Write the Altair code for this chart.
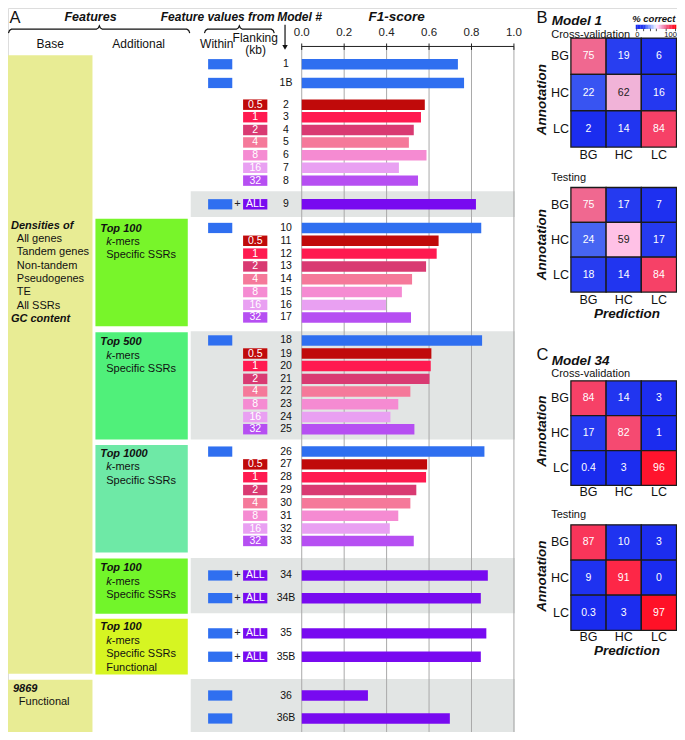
import altair as alt
import pandas as pd

FONT = "Liberation Sans"

# ---------------- data ----------------
models = ["1", "1B", "2", "3", "4", "5", "6", "7", "8", "9",
          "10", "11", "12", "13", "14", "15", "16", "17",
          "18", "19", "20", "21", "22", "23", "24", "25",
          "26", "27", "28", "29", "30", "31", "32", "33",
          "34", "34B", "35", "35B", "36", "36B"]
f1 = [0.736, 0.765, 0.580, 0.562, 0.528, 0.505, 0.588, 0.458, 0.548, 0.821,
      0.846, 0.645, 0.636, 0.586, 0.520, 0.472, 0.397, 0.515,
      0.850, 0.611, 0.608, 0.602, 0.512, 0.455, 0.418, 0.531,
      0.861, 0.591, 0.586, 0.540, 0.512, 0.455, 0.415, 0.528,
      0.877, 0.844, 0.870, 0.844, 0.312, 0.698]
within = [1, 1, 0, 0, 0, 0, 0, 0, 0, 1,
          1, 0, 0, 0, 0, 0, 0, 0,
          1, 0, 0, 0, 0, 0, 0, 0,
          1, 0, 0, 0, 0, 0, 0, 0,
          1, 1, 1, 1, 1, 1]
flank = ["", "", "0.5", "1", "2", "4", "8", "16", "32", "ALL",
         "", "0.5", "1", "2", "4", "8", "16", "32",
         "", "0.5", "1", "2", "4", "8", "16", "32",
         "", "0.5", "1", "2", "4", "8", "16", "32",
         "ALL", "ALL", "ALL", "ALL", "", ""]
bar_group = ["Within", "Within", "0.5", "1", "2", "4", "8", "16", "32", "ALL",
             "Within", "0.5", "1", "2", "4", "8", "16", "32",
             "Within", "0.5", "1", "2", "4", "8", "16", "32",
             "Within", "0.5", "1", "2", "4", "8", "16", "32",
             "ALL", "ALL", "ALL", "ALL", "ALL", "ALL"]
f1_ticks = [0.0, 0.2, 0.4, 0.6, 0.8, 1.0]
f1_tick_labels = ["0.0", "0.2", "0.4", "0.6", "0.8", "1.0"]

base_title = "Densities of"
base_items = ["All genes", "Tandem genes", "Non-tandem", "Pseudogenes", "TE", "All SSRs"]
base_tail = "GC content"
box_titles = ["Top 100", "Top 500", "Top 1000", "Top 100", "Top 100"]
box_items = [["Specific SSRs"], ["Specific SSRs"], ["Specific SSRs"], ["Specific SSRs"],
             ["Specific SSRs", "Functional"]]
func_title = "9869"
func_item = "Functional"

classes = ["BG", "HC", "LC"]
m1_cv = [[75, 19, 6], [22, 62, 16], [2, 14, 84]]
m1_test = [[75, 17, 7], [24, 59, 17], [18, 14, 84]]
m34_cv = [[84, 14, 3], [17, 82, 1], [0.4, 3, 96]]
m34_test = [[87, 10, 3], [9, 91, 0], [0.3, 3, 97]]
legend_vals = list(range(0, 101, 4))

# ---------------- layout (reference pixel coordinates) ----------------
row_y = [60, 79, 101, 113.7, 126.7, 139.3, 152.3, 165, 178, 202,
         226, 239, 252, 265, 278, 291, 304, 316.7,
         340, 353.3, 366, 379, 391.7, 404.7, 417.7, 430,
         452.7, 465.7, 478.7, 491.7, 505, 517.7, 530.7, 543.3,
         578.3, 601.3, 637, 660.7, 700, 723.3]
BAR_H = 10.6
W, H = 669, 724
X0, X1 = 3, 684
Y0, Y1 = 3, 737


def cx(v):
    return (v - X0) * W / (X1 - X0)


def cy(v):
    return (v - Y0) * H / (Y1 - Y0)


PXX = alt.Scale(domain=[X0, X1], range=[0, W], nice=False, zero=False)
PXY = alt.Scale(domain=[Y0, Y1], range=[0, H], nice=False, zero=False)
F1S = alt.Scale(domain=[0, 1], range=[cx(302), cx(518)], nice=False, zero=False)

GROUP_COLORS = {"Within": "#2f6ff0", "0.5": "#c00a0a", "1": "#ff1a50", "2": "#d93a72",
                "4": "#f5799a", "8": "#f58bd2", "16": "#e9a0f2", "32": "#b64ff2",
                "ALL": "#780af0"}
GSCALE = alt.Scale(domain=list(GROUP_COLORS.keys()), range=list(GROUP_COLORS.values()))
HEAT = alt.Scale(domain=[0, 15, 20, 25, 50, 62, 75, 85, 100],
                 range=["#1a2bef", "#2236f0", "#2a40f0", "#4f6ef2", "#ffffff",
                        "#f1b3d8", "#f06890", "#f63c62", "#ff0a10"])

layers = []


def rects(rows):
    df = pd.DataFrame(rows, columns=["x", "x2", "y", "y2", "fill"])
    return alt.Chart(df).mark_rect().encode(
        x=alt.X("x:Q", scale=PXX, axis=None), x2="x2:Q",
        y=alt.Y("y:Q", scale=PXY, axis=None), y2="y2:Q",
        color=alt.Color("fill:N", scale=None))


def texts(rows, align="left", weight="normal", style="normal", angle=0):
    df = pd.DataFrame(rows, columns=["x", "y", "text", "size", "color"])
    return alt.Chart(df).mark_text(align=align, baseline="middle", fontWeight=weight,
                                   fontStyle=style, angle=angle, font=FONT).encode(
        x=alt.X("x:Q", scale=PXX, axis=None),
        y=alt.Y("y:Q", scale=PXY, axis=None),
        text="text:N",
        size=alt.Size("size:Q", scale=None),
        color=alt.Color("color:N", scale=None))


# background bands and feature boxes
GRAY = "#e2e5e4"
bg = [(189, 519, 188.7, 215, GRAY), (189, 519, 330.7, 440.5, GRAY),
      (189, 519, 560.7, 616.7, GRAY), (189, 519, 683.3, 745, GRAY),
      (3, 89, 51, 678, "#e8ec94"), (3, 89, 684, 745, "#e8ec94"),
      (92, 186, 216.7, 325.7, "#78f52a"), (92, 186, 331.7, 440.5, "#50f07a"),
      (92, 186, 446, 555, "#6ee9a6"), (92, 186, 561, 617, "#72f52a"),
      (92, 186, 622.3, 678.7, "#d6f522")]
layers.append(rects(bg))

# grid lines and top axis
grid_df = pd.DataFrame({"t": f1_ticks, "y0": 42, "y1": 745, "ty0": 39, "ty1": 45.5,
                        "lab": f1_tick_labels, "ly": 28})
layers.append(alt.Chart(grid_df).mark_rule(color="#a9a9a9", strokeWidth=1).encode(
    x=alt.X("t:Q", scale=F1S, axis=None), y=alt.Y("y0:Q", scale=PXY, axis=None), y2="y1:Q"))
layers.append(alt.Chart(grid_df).mark_rule(color="#222", strokeWidth=1).encode(
    x=alt.X("t:Q", scale=F1S, axis=None), y=alt.Y("ty0:Q", scale=PXY, axis=None), y2="ty1:Q"))
axis_df = pd.DataFrame({"a": [0.0], "b": [1.0], "y": [42]})
layers.append(alt.Chart(axis_df).mark_rule(color="#222", strokeWidth=1).encode(
    x=alt.X("a:Q", scale=F1S, axis=None), x2="b:Q", y=alt.Y("y:Q", scale=PXY, axis=None)))
layers.append(alt.Chart(grid_df).mark_text(font=FONT, fontSize=11.5, color="#222").encode(
    x=alt.X("t:Q", scale=F1S, axis=None), y=alt.Y("ly:Q", scale=PXY, axis=None), text="lab:N"))

# bars
bars_df = pd.DataFrame({"model": models, "f1": f1, "group": bar_group, "zero": 0.0,
                        "yt": [y - BAR_H / 2 for y in row_y], "yb": [y + BAR_H / 2 for y in row_y]})
layers.append(alt.Chart(bars_df).mark_rect().encode(
    x=alt.X("zero:Q", scale=F1S, axis=None), x2="f1:Q",
    y=alt.Y("yt:Q", scale=PXY, axis=None), y2="yb:Q",
    color=alt.Color("group:N", scale=GSCALE, legend=None)))

# within / flanking markers
w_df = pd.DataFrame({"x": 206.7, "x2": 231.3, "group": "Within",
                     "y": [y - 5.2 for y, w in zip(row_y, within) if w],
                     "y2": [y + 5.2 for y, w in zip(row_y, within) if w]})
layers.append(alt.Chart(w_df).mark_rect().encode(
    x=alt.X("x:Q", scale=PXX, axis=None), x2="x2:Q",
    y=alt.Y("y:Q", scale=PXY, axis=None), y2="y2:Q",
    color=alt.Color("group:N", scale=GSCALE, legend=None)))
fl = [(y, f) for y, f in zip(row_y, flank) if f]
f_df = pd.DataFrame({"x": 242.3, "x2": 267, "xc": 254.7, "group": [f for _, f in fl],
                     "y": [y - 5.3 for y, _ in fl], "y2": [y + 5.3 for y, _ in fl],
                     "yc": [y for y, _ in fl]})
layers.append(alt.Chart(f_df).mark_rect().encode(
    x=alt.X("x:Q", scale=PXX, axis=None), x2="x2:Q",
    y=alt.Y("y:Q", scale=PXY, axis=None), y2="y2:Q",
    color=alt.Color("group:N", scale=GSCALE, legend=None)))
layers.append(alt.Chart(f_df).mark_text(font=FONT, fontSize=10.5, color="white").encode(
    x=alt.X("xc:Q", scale=PXX, axis=None), y=alt.Y("yc:Q", scale=PXY, axis=None),
    text="group:N"))
plus_rows = [(236.5, y, "+", 11, "#222") for y, w, f in zip(row_y, within, flank) if w and f]
layers.append(texts(plus_rows, align="center"))
num_rows = [(286, y, m, 10.5, "#111") for y, m in zip(row_y, models)]
layers.append(texts(num_rows, align="center"))

# braces and arrow
br = []
for name, x0, x1, xm, y in [("f", 3.5, 188, 96, 24.5), ("v", 203, 274, 238.5, 24.5)]:
    pts = [(x0, y + 4), (x0 + 1, y + 1.3), (x0 + 3, y), (xm - 3, y), (xm - 1, y - 1.3),
           (xm, y - 3.5), (xm + 1, y - 1.3), (xm + 3, y), (x1 - 3, y), (x1 - 1, y + 1.3), (x1, y + 4)]
    for i, (a, b) in enumerate(pts):
        br.append({"b": name, "i": i, "x": a, "y": b})
br += [{"b": "arrow", "i": 0, "x": 285, "y": 20}, {"b": "arrow", "i": 1, "x": 285, "y": 41}]
layers.append(alt.Chart(pd.DataFrame(br)).mark_line(color="#111", strokeWidth=1.2).encode(
    x=alt.X("x:Q", scale=PXX, axis=None), y=alt.Y("y:Q", scale=PXY, axis=None),
    detail="b:N", order="i:Q"))
layers.append(alt.Chart(pd.DataFrame({"x": [285], "y": [43]})).mark_point(
    shape="triangle-down", filled=True, size=30, color="#111", opacity=1).encode(
    x=alt.X("x:Q", scale=PXX, axis=None), y=alt.Y("y:Q", scale=PXY, axis=None)))

# header texts
layers.append(texts([(4.5, 13, "A", 16.5, "#111"), (541, 13, "B", 16.5, "#111"),
                     (541, 355, "C", 16.5, "#111")], align="left"))
layers.append(texts([(87, 12, "Features", 12.5, "#111"), (216.5, 12, "Feature values from", 12, "#111"),
                     (398.7, 12, "F1-score", 13.5, "#111")],
                    align="center", weight="bold", style="italic"))
layers.append(texts([(277, 12, "Model #", 12, "#111")], align="left", weight="bold", style="italic"))
layers.append(texts([(46, 40, "Base", 12, "#111"), (136, 40, "Additional", 12, "#111"),
                     (215.5, 40, "Within", 12, "#111"), (254.7, 33, "Flanking", 12, "#111"),
                     (255, 46, "(kb)", 12, "#111")], align="center"))

# feature box texts
FS = 11
bold_left = [(6, 224, base_title, FS, "#111"), (6, 318.3, base_tail, FS, "#111"),
             (8, 693, func_title, FS, "#111")]
reg_left = [(12, 237 + 13.6 * i, t, FS, "#111") for i, t in enumerate(base_items)]
reg_left.append((14, 706.7, func_item, FS, "#111"))
ital_left = []
title_y = [226.7, 341.7, 455, 571, 631]
for ty, title, items in zip(title_y, box_titles, box_items):
    bold_left.append((97, ty, title, FS, "#111"))
    ital_left.append((103, ty + 13.6, "k", FS, "#111"))
    reg_left.append((108.6, ty + 13.6, "-mers", FS, "#111"))
    for j, it in enumerate(items):
        reg_left.append((103, ty + 13.6 * (j + 2), it, FS, "#111"))
layers.append(texts(reg_left, align="left"))
layers.append(texts(ital_left, align="left", style="italic"))
layers.append(texts(bold_left, align="left", weight="bold", style="italic"))


# heatmaps
def fmt(v):
    return str(int(v)) if float(v).is_integer() else str(v)


def heatmap(vals, x0, x1, y0, y1, col_y):
    rows = []
    for i, a in enumerate(classes):
        for j, p in enumerate(classes):
            v = vals[i][j]
            rows.append({"ann": a, "pred": p, "v": v, "label": fmt(v),
                         "tc": "#222" if 40 < v < 70 else "white"})
    df = pd.DataFrame(rows)
    xs = alt.Scale(domain=classes, range=[cx(x0), cx(x1)], paddingInner=0, paddingOuter=0)
    ys = alt.Scale(domain=classes, range=[cy(y0), cy(y1)], paddingInner=0, paddingOuter=0)
    base = alt.Chart(df).encode(x=alt.X("pred:N", scale=xs, axis=None),
                                y=alt.Y("ann:N", scale=ys, axis=None))
    out = [base.mark_rect(stroke="#1a1a1a", strokeWidth=1.3).encode(
               color=alt.Color("v:Q", scale=HEAT, legend=None)),
           base.mark_text(font=FONT, fontSize=10.5).encode(
               text="label:N", color=alt.Color("tc:N", scale=None))]
    cdf = pd.DataFrame({"c": classes, "y": col_y, "x": 574})
    out.append(alt.Chart(cdf).mark_text(font=FONT, fontSize=12.5, color="#111").encode(
        x=alt.X("c:N", scale=xs, axis=None), y=alt.Y("y:Q", scale=PXY, axis=None), text="c:N"))
    out.append(alt.Chart(cdf).mark_text(font=FONT, fontSize=12.5, color="#111", align="right").encode(
        x=alt.X("x:Q", scale=PXX, axis=None), y=alt.Y("c:N", scale=ys, axis=None), text="c:N"))
    return out


layers += heatmap(m1_cv, 576, 683.5, 33.5, 144, 152)
layers += heatmap(m1_test, 576, 683.5, 185, 291, 299)
layers += heatmap(m34_cv, 576, 683.5, 381, 487, 494)
layers += heatmap(m34_test, 576, 683.5, 527, 634, 641)

# legend gradient
n = len(legend_vals)
lg_df = pd.DataFrame({"v": legend_vals,
                      "x": [642 + i * 41 / n for i in range(n)],
                      "x2": [642 + (i + 1) * 41 / n + 0.3 for i in range(n)],
                      "y": 20, "y2": 24.3})
layers.append(alt.Chart(lg_df).mark_rect().encode(
    x=alt.X("x:Q", scale=PXX, axis=None), x2="x2:Q",
    y=alt.Y("y:Q", scale=PXY, axis=None), y2="y2:Q",
    color=alt.Color("v:Q", scale=HEAT, legend=None)))
lt_df = pd.DataFrame({"x": [643, 650, 657, 663, 673, 682.5], "y": 24, "y2": 26.5})
layers.append(alt.Chart(lt_df).mark_rule(color="#222", strokeWidth=0.8).encode(
    x=alt.X("x:Q", scale=PXX, axis=None), y=alt.Y("y:Q", scale=PXY, axis=None), y2="y2:Q"))
layers.append(texts([(643.5, 30, "0", 7.5, "#111"), (677.5, 30, "100", 7.5, "#111")], align="center"))
layers.append(texts([(682.5, 14, "% correct", 9.5, "#111")],
                    align="right", weight="bold", style="italic"))
layers.append(texts([(556.5, 16, "Model 1", 13.5, "#111"),
                     (556.5, 360.5, "Model 34", 13.5, "#111")],
                    align="left", weight="bold", style="italic"))
layers.append(texts([(556, 30, "Cross-validation", 11, "#111"), (556, 175, "Testing", 11, "#111"),
                     (556, 374.3, "Cross-validation", 11, "#111"), (556, 516.7, "Testing", 11, "#111")],
                    align="left"))
layers.append(texts([(633, 313.5, "Prediction", 13.5, "#111"), (633, 655, "Prediction", 13.5, "#111")],
                    align="center", weight="bold", style="italic"))
layers.append(texts([(547, 96, "Annotation", 13.5, "#111"), (547, 243, "Annotation", 13.5, "#111"),
                     (547, 432, "Annotation", 13.5, "#111"), (547, 579, "Annotation", 13.5, "#111")],
                    align="center", weight="bold", style="italic", angle=270))

chart = alt.layer(*layers).resolve_scale(
    x="independent", y="independent", color="independent", size="independent"
).properties(
    width=W, height=H, padding=0, autosize=alt.AutoSizeParams(type="none")
).configure_view(stroke=None).configure(background="white")

chart.save("out.html", embed_options={"renderer": "svg", "actions": False})
